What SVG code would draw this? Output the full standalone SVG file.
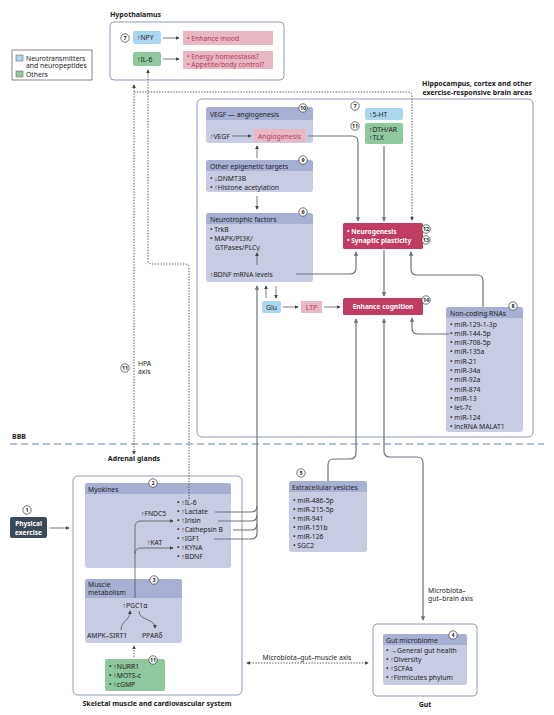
<svg xmlns="http://www.w3.org/2000/svg" width="554" height="715" viewBox="0 0 554 715">
<defs>
<style>
text{font-family:"Noto Sans","Liberation Sans",sans-serif;font-size:6.8px;fill:#222}
.b{font-weight:bold}
.ttl{font-weight:bold;font-size:7px;fill:#1a1a1a}
.w{fill:#fff;font-weight:bold;font-size:6.6px}
.pt{fill:#b23a5c}
.m{text-anchor:middle}
.outer{fill:#fff;stroke:#8f9bb8;stroke-width:1}
.inner{fill:#c8cce3}
.hdr{fill:#a7afd3}
.pink{fill:#eab7c4}
.blue{fill:#abd6f0}
.green{fill:#8fc79f}
.red{fill:#c13c63}
.cir{fill:#fff;stroke:#333;stroke-width:0.7}
.num{font-size:5.4px;font-weight:bold;text-anchor:middle;fill:#222}
.ln{fill:none;stroke:#6c7380;stroke-width:1.2}
.th{fill:none;stroke:#444;stroke-width:0.7}
.dt{fill:none;stroke:#444;stroke-width:0.9;stroke-dasharray:1.4 1.4}
</style>
<marker id="ag" viewBox="0 0 6 6" refX="5" refY="3" markerWidth="4.5" markerHeight="4.5" markerUnits="userSpaceOnUse" orient="auto-start-reverse"><path d="M0,0 L6,3 L0,6 z" fill="#6c7380"/></marker>
<marker id="ak" viewBox="0 0 6 6" refX="5" refY="3" markerWidth="4" markerHeight="4" markerUnits="userSpaceOnUse" orient="auto-start-reverse"><path d="M0,0 L6,3 L0,6 z" fill="#444"/></marker>
</defs>
<rect width="554" height="715" fill="#fff"/>

<g id="legend">
<rect x="12" y="50" width="80" height="30" fill="#fff" stroke="#555" stroke-width="0.7"/>
<rect x="16" y="55" width="7" height="6" class="blue" stroke="#555" stroke-width="0.5"/>
<text x="26" y="60.5">Neurotransmitters</text>
<text x="26" y="68">and neuropeptides</text>
<rect x="16" y="71" width="7" height="6" class="green" stroke="#555" stroke-width="0.5"/>
<text x="26" y="76.5">Others</text>
</g>

<g id="hypothalamus">
<text x="110" y="17" class="ttl">Hypothalamus</text>
<rect x="110" y="22" width="174" height="58" rx="4" class="outer"/>
<circle cx="125" cy="38" r="4.2" class="cir"/><text x="125" y="40" class="num">7</text>
<rect x="133" y="31" width="28" height="13" rx="2" class="blue"/>
<text x="137" y="40">↑NPY</text>
<rect x="183" y="31" width="90" height="14" class="pink"/>
<text x="187" y="40.5" class="pt">• Enhance mood</text>
<rect x="133" y="52" width="28" height="14" rx="2" class="green"/>
<text x="137" y="61.5">↑IL-6</text>
<rect x="183" y="51" width="90" height="18" class="pink"/>
<text x="187" y="58.5" class="pt">• Energy homeostasis?</text>
<text x="187" y="66.5" class="pt">• Appetite/body control?</text>
</g>

<g id="brain">
<text x="532" y="86" class="ttl" text-anchor="end">Hippocampus, cortex and other</text>
<text x="532" y="95" class="ttl" text-anchor="end">exercise-responsive brain areas</text>
<rect x="197" y="99" width="336" height="338" rx="5" class="outer"/>
</g>

<g id="vegf">
<rect x="206" y="107" width="107" height="36" rx="3" class="inner"/>
<path d="M206,120 L206,110 Q206,107 209,107 L310,107 Q313,107 313,110 L313,120 Z" class="hdr"/>
<text x="210" y="116.5">VEGF — angiogenesis</text>
<circle cx="303" cy="108" r="4.2" class="cir"/><text x="303" y="110" class="num">10</text>
<text x="210" y="138.5">↑VEGF</text>
<rect x="254" y="129" width="52" height="13" class="pink"/>
<text x="258" y="138.5" class="pt">Angiogenesis</text>
</g>

<g id="epigenetic">
<rect x="206" y="160" width="107" height="32" rx="3" class="inner"/>
<path d="M206,171 L206,163 Q206,160 209,160 L310,160 Q313,160 313,163 L313,171 Z" class="hdr"/>
<text x="210" y="168.5">Other epigenetic targets</text>
<circle cx="303" cy="160" r="4.2" class="cir"/><text x="303" y="162" class="num">9</text>
<text x="210" y="181">• ↓DNMT3B</text>
<text x="210" y="189.5">• ↑Histone acetylation</text>
</g>

<g id="neurotrophic">
<rect x="206" y="213" width="107" height="69" rx="3" class="inner"/>
<path d="M206,224 L206,216 Q206,213 209,213 L310,213 Q313,213 313,216 L313,224 Z" class="hdr"/>
<text x="210" y="221.5">Neurotrophic factors</text>
<circle cx="303" cy="212" r="4.2" class="cir"/><text x="303" y="214" class="num">6</text>
<text x="210" y="232">• TrkB</text>
<text x="210" y="241">• MAPK/PI3K/</text>
<text x="215" y="249.5">GTPases/PLCγ</text>
<text x="210" y="277">↑BDNF mRNA levels</text>
</g>

<g id="ht5">
<circle cx="355" cy="106" r="4.2" class="cir"/><text x="355" y="108" class="num">7</text>
<rect x="365" y="108" width="38" height="12" rx="2" class="blue"/>
<text x="369" y="116.5">↑5-HT</text>
</g>
<g id="dth">
<circle cx="355" cy="126" r="4.2" class="cir"/><text x="355" y="128" class="num">11</text>
<rect x="365" y="123" width="38" height="21" rx="2" class="green"/>
<text x="369" y="131.5">↑DTH/AR</text>
<text x="369" y="140">↑TLX</text>
</g>

<g id="neurogenesis">
<rect x="343" y="223" width="80" height="26" rx="1.5" class="red"/>
<text x="347" y="233.5" class="w">• Neurogenesis</text>
<text x="347" y="243" class="w">• Synaptic plasticity</text>
<circle cx="426" cy="229" r="4.2" class="cir"/><text x="426" y="231" class="num">12</text>
<circle cx="426" cy="240" r="4.2" class="cir"/><text x="426" y="242" class="num">13</text>
</g>

<g id="cognition">
<rect x="343" y="298" width="80" height="17" rx="1.5" class="red"/>
<text x="383" y="309" class="w m">Enhance cognition</text>
<circle cx="426" cy="300" r="4.2" class="cir"/><text x="426" y="302" class="num">14</text>
</g>

<g id="glu">
<rect x="262" y="301" width="19" height="12" rx="2" class="blue"/>
<text x="271.5" y="309.5" class="m">Glu</text>
</g>
<g id="ltp">
<rect x="301" y="301" width="21" height="12" class="pink"/>
<text x="311.5" y="309.5" class="m pt">LTP</text>
</g>

<g id="noncoding">
<rect x="446" y="307" width="77" height="125" rx="3" class="inner"/>
<path d="M446,318 L446,310 Q446,307 449,307 L520,307 Q523,307 523,310 L523,318 Z" class="hdr"/>
<text x="450" y="315.5">Non-coding RNAs</text>
<circle cx="513" cy="306" r="4.2" class="cir"/><text x="513" y="308" class="num">8</text>
<text x="450" y="326.5">• miR-129-1-3p</text>
<text x="450" y="335.8">• miR-144-5p</text>
<text x="450" y="345.1">• miR-708-5p</text>
<text x="450" y="354.4">• miR-135a</text>
<text x="450" y="363.7">• miR-21</text>
<text x="450" y="373">• miR-34a</text>
<text x="450" y="382.3">• miR-92a</text>
<text x="450" y="391.6">• miR-874</text>
<text x="450" y="400.9">• miR-13</text>
<text x="450" y="410.2">• let-7c</text>
<text x="450" y="419.5">• miR-124</text>
<text x="450" y="428.8">• lncRNA MALAT1</text>
</g>

<g id="bbb">
<path d="M10,444 L544,444" fill="none" stroke="#9dabc3" stroke-width="1.5" stroke-dasharray="7 4"/>
<text x="12" y="439" class="ttl">BBB</text>
</g>

<g id="adrenal">
<text x="134" y="461" class="ttl m">Adrenal glands</text>
</g>

<g id="hpa-label">
<circle cx="125" cy="368" r="4.2" class="cir"/><text x="125" y="370" class="num">11</text>
<text x="138" y="366">HPA</text>
<text x="138" y="374">axis</text>
</g>

<g id="exercise">
<circle cx="27" cy="510" r="4.2" class="cir"/><text x="27" y="512" class="num">1</text>
<rect x="10" y="517" width="37" height="21" rx="2" fill="#3c4a57"/>
<text x="28.5" y="525.5" class="w m">Physical</text>
<text x="28.5" y="534.5" class="w m">exercise</text>
</g>

<g id="muscle">
<rect x="73" y="476" width="169" height="219" rx="5" class="outer"/>
<text x="157" y="706" class="ttl m">Skeletal muscle and cardiovascular system</text>
</g>

<g id="myokines">
<rect x="85" y="483" width="146" height="85" rx="3" class="inner"/>
<path d="M85,494 L85,486 Q85,483 88,483 L228,483 Q231,483 231,486 L231,494 Z" class="hdr"/>
<text x="88" y="491.5">Myokines</text>
<circle cx="153" cy="483" r="4.2" class="cir"/><text x="153" y="485" class="num">2</text>
<text x="177" y="505">• ↑IL-6</text>
<text x="177" y="514">• ↑Lactate</text>
<text x="177" y="523">• ↑Irisin</text>
<text x="177" y="532">• ↑Cathepsin B</text>
<text x="177" y="541">• ↑IGF1</text>
<text x="177" y="550">• ↑KYNA</text>
<text x="177" y="559">• ↑BDNF</text>
<text x="141" y="516">↑FNDC5</text>
<text x="147" y="545">↑KAT</text>
</g>

<g id="metabolism">
<rect x="85" y="579" width="97" height="64" rx="3" class="inner"/>
<path d="M85,598 L85,582 Q85,579 88,579 L179,579 Q182,579 182,582 L182,598 Z" class="hdr"/>
<text x="88" y="586.5">Muscle</text>
<text x="88" y="595">metabolism</text>
<circle cx="154" cy="580" r="4.2" class="cir"/><text x="154" y="582" class="num">3</text>
<text x="135" y="607.5" class="m">↑PGC1α</text>
<text x="87" y="638">AMPK–SIRT1</text>
<text x="142" y="638">PPARδ</text>
</g>

<g id="others11">
<rect x="105" y="659" width="60" height="32" rx="2" class="green"/>
<circle cx="153" cy="660" r="4.2" class="cir"/><text x="153" y="662" class="num">11</text>
<text x="109" y="669">• ↑NURR1</text>
<text x="109" y="678">• ↑MOTS-c</text>
<text x="109" y="687">• ↑cGMP</text>
</g>

<g id="vesicles">
<circle cx="301" cy="473" r="4.2" class="cir"/><text x="301" y="475" class="num">5</text>
<rect x="289" y="481" width="78" height="71" rx="3" class="inner"/>
<path d="M289,492 L289,484 Q289,481 292,481 L364,481 Q367,481 367,484 L367,492 Z" class="hdr"/>
<text x="292" y="489.5">Extracellular vesicles</text>
<text x="293" y="503">• miR-486-5p</text>
<text x="293" y="512">• miR-215-5p</text>
<text x="293" y="521">• miR-941</text>
<text x="293" y="530">• miR-151b</text>
<text x="293" y="539">• miR-126</text>
<text x="293" y="548">• SGC2</text>
</g>

<g id="gut">
<rect x="373" y="624" width="104" height="72" rx="4" class="outer"/>
<text x="425" y="707" class="ttl m">Gut</text>
<rect x="383" y="634" width="84" height="51" rx="3" class="inner"/>
<path d="M383,645 L383,637 Q383,634 386,634 L464,634 Q467,634 467,637 L467,645 Z" class="hdr"/>
<text x="386" y="642.5">Gut microbiome</text>
<circle cx="453" cy="635" r="4.2" class="cir"/><text x="453" y="637" class="num">4</text>
<text x="386" y="653">• →General gut health</text>
<text x="386" y="662">• ↑Diversity</text>
<text x="386" y="671">• ↑SCFAs</text>
<text x="386" y="680">• ↑Firmicutes phylum</text>
</g>

<g id="connectors">
<path d="M163,38 L179,38" class="th" marker-end="url(#ak)"/>
<path d="M163,59 L179,59" class="th" marker-end="url(#ak)"/>
<path d="M232,136 L251,136" class="th" marker-end="url(#ak)"/>
<path d="M257,158 L257,146" class="th" marker-end="url(#ak)"/>
<path d="M257,196 L257,209" class="th" marker-end="url(#ak)"/>
<path d="M257,265 L257,253" class="th" marker-end="url(#ak)"/>
<path d="M266,298 L266,286" class="th" marker-end="url(#ak)"/>
<path d="M276,286 L276,298" class="th" marker-end="url(#ak)"/>
<path d="M283,307 L298,307" class="th" marker-end="url(#ak)"/>
<path d="M324,307 L340,307" class="th" marker-end="url(#ak)"/>
<path d="M50,528 L69,528" class="th" marker-end="url(#ak)"/>
<path d="M135,598 L135,527 Q135,521 141,521 L173,521" class="th" marker-end="url(#ak)"/>
<path d="M135,554 Q135,548 141,548 L173,548" class="th" marker-end="url(#ak)"/>
<path d="M121,630 C121,620 130,622 130,611" class="th" marker-end="url(#ak)"/>
<path d="M139,611 C139,621 155,618 155,628" class="th" marker-end="url(#ak)"/>

<path d="M296,274 L350,274 Q356,274 356,268 L356,252" class="ln" marker-end="url(#ag)"/>
<path d="M308,136 L352,136 Q358,136 358,142 L358,221" class="ln" marker-end="url(#ag)"/>
<path d="M384,146 L384,221" class="ln" marker-end="url(#ag)"/>
<path d="M384,250 L384,296" class="ln" marker-end="url(#ag)"/>
<path d="M483,307 L483,281 Q483,275 477,275 L417,275 Q411,275 411,269 L411,252" class="ln" marker-end="url(#ag)"/>
<path d="M449,334 L418,334 Q412,334 412,328 L412,318" class="ln" marker-end="url(#ag)"/>
<path d="M215,512 L251,512 Q257,512 257,506" class="ln"/>
<path d="M218,521 L251,521 Q257,521 257,515" class="ln"/>
<path d="M233,530 L251,530 Q257,530 257,524" class="ln"/>
<path d="M214,539 L251,539 Q257,539 257,533 L257,286" class="ln" marker-end="url(#ag)"/>
<path d="M328,481 L328,465 Q328,459 334,459 L350,459 Q356,459 356,453 L356,319" class="ln" marker-end="url(#ag)"/>
<path d="M384,319 L384,451 Q384,457 390,457 L417,457 Q423,457 423,463 L423,620" class="ln" marker-start="url(#ag)" marker-end="url(#ag)"/>

<path d="M134,85 L134,454" class="dt" marker-start="url(#ak)" marker-end="url(#ak)"/>
<path d="M134,92 L408,92 Q412,92 412,96 L412,220" class="dt" marker-end="url(#ak)"/>
<path d="M189,499 L189,268 Q189,264 185,264 L152,264 Q148,264 148,260 L148,70" class="dt" marker-end="url(#ak)"/>
<path d="M134,657 L134,646" class="dt" marker-end="url(#ak)"/>
<path d="M247,663 L368,663" class="dt" marker-start="url(#ak)" marker-end="url(#ak)"/>
</g>

<g id="axis-labels">
<text x="428" y="593">Microbiota–</text>
<text x="428" y="601">gut–brain axis</text>
<text x="307" y="659.5" class="m">Microbiota–gut–muscle axis</text>
</g>
</svg>
